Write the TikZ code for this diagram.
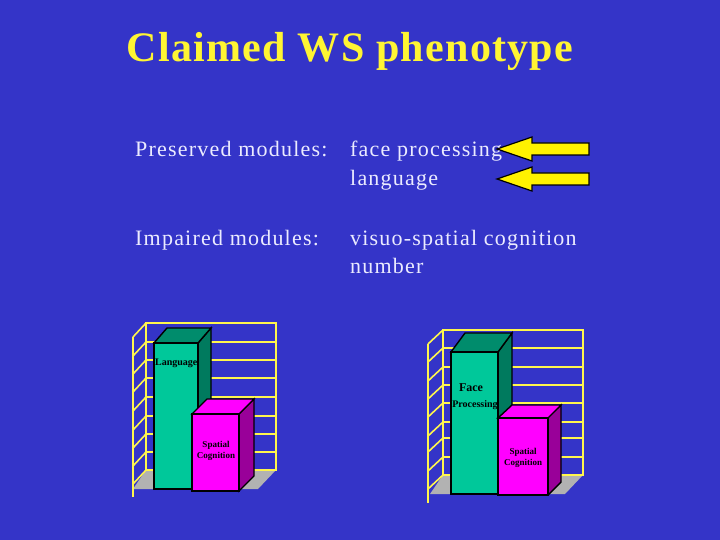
\documentclass[tikz,border=0pt]{standalone}
\usepackage{fontspec}
\setmainfont{Liberation Serif}
\newfontfamily\spaced[LetterSpace=5.5]{Liberation Serif}
\newfontfamily\tspaced[LetterSpace=3]{Liberation Serif}
\begin{document}
\begin{tikzpicture}[x=1pt,y=-1pt,
  wall/.style={draw=yellow!70!white,line width=1.6pt},
  bar/.style={draw=black,line width=1.4pt},
  body/.style={text=white!92!blue,font=\spaced\fontsize{22}{24}\selectfont,anchor=base west,inner sep=0},
  lbl/.style={font=\fontsize{10}{11}\selectfont\bfseries,text=black,inner sep=0},
  arr/.style={draw=black,fill=yellow,line width=1.2pt}]
\definecolor{bg}{HTML}{3434C8}
\definecolor{grn}{HTML}{00C89A}
\definecolor{dgrn}{HTML}{007A5E}
\definecolor{mag}{HTML}{FF00FF}
\definecolor{dmag}{HTML}{990099}
\fill[bg] (0,0) rectangle (720,540);
\useasboundingbox (0,0) rectangle (720,540);
\node[font=\tspaced\fontsize{42}{46}\selectfont\bfseries,text=yellow!80!white] (title) at (350,51) {Claimed WS phenotype};
\node[body] (p1) at (135,157) {Preserved modules:};
\node[body] (p2) at (350,157) {face processing};
\node[body] (p3) at (350,186) {language};
\node[body] (i1) at (135,245) {Impaired modules:};
\node[body] (i2) at (350,245) {visuo-spatial cognition};
\node[body] (i3) at (350,273) {number};
\foreach \y in {149,179}{
 \draw[arr] (497,\y) -- (532,\y-12) -- (532,\y-6) -- (589,\y-6) -- (589,\y+6) -- (532,\y+6) -- (532,\y+12) -- cycle;
}
% chart 1
\fill[gray!60] (146,470) -- (276,470) -- (258,489) -- (133,489) -- cycle;
\draw[wall] (146,323) rectangle (276,470);
\foreach \y in {342,360,378,397,416,434,452}{\draw[wall] (146,\y) -- (276,\y); }
\foreach \y in {323,342,360,378,397,416,434,452,470}{\draw[wall] (146,\y) -- (133,\y+14);}
\draw[wall] (133,337) -- (133,497);
\draw[bar,fill=dgrn] (198,343) -- (211,328) -- (211,474) -- (198,489) -- cycle;
\draw[bar,fill=grn!70!black] (154,343) -- (167,328) -- (211,328) -- (198,343) -- cycle;
\draw[bar,fill=grn] (154,343) rectangle (198,489);
\node[lbl,anchor=west] (l1) at (155,363) {Language};
\draw[bar,fill=dmag] (239,414) -- (254,399) -- (254,476) -- (239,491) -- cycle;
\draw[bar,fill=mag] (192,414) -- (207,399) -- (254,399) -- (239,414) -- cycle;
\draw[bar,fill=mag] (192,414) rectangle (239,491);
\node[lbl,align=center,font=\fontsize{9}{11}\selectfont\bfseries] (s1) at (216,451) {Spatial\\Cognition};
% chart 2
\fill[gray!60] (443,475) -- (583,475) -- (565,494) -- (430,494) -- cycle;
\draw[wall] (443,330) rectangle (583,475);
\foreach \y in {348,367,385,403,422,438,457}{\draw[wall] (443,\y) -- (583,\y); }
\foreach \y in {330,348,367,385,403,422,438,457,475}{\draw[wall] (443,\y) -- (428,\y+14);}
\draw[wall] (428,344) -- (428,503);
\draw[bar,fill=dgrn] (498,352) -- (512,333) -- (512,478) -- (498,494) -- cycle;
\draw[bar,fill=grn!70!black] (451,352) -- (465,333) -- (512,333) -- (498,352) -- cycle;
\draw[bar,fill=grn] (451,352) rectangle (498,494);
\node[lbl,font=\fontsize{12}{13}\selectfont\bfseries] (f1) at (471,388) {Face};
\node[lbl] (f2) at (475,405) {Processing};
\draw[bar,fill=dmag] (498,418) -- (547,418) -- (561,405) -- (561,482) -- (548,495) -- cycle;
\draw[bar,fill=mag] (498,418) -- (512,405) -- (561,405) -- (548,418) -- cycle;
\draw[bar,fill=mag] (498,418) rectangle (548,495);
\node[lbl,align=center,font=\fontsize{9}{11}\selectfont\bfseries] (s2) at (523,458) {Spatial\\Cognition};
\end{tikzpicture}
\end{document}
